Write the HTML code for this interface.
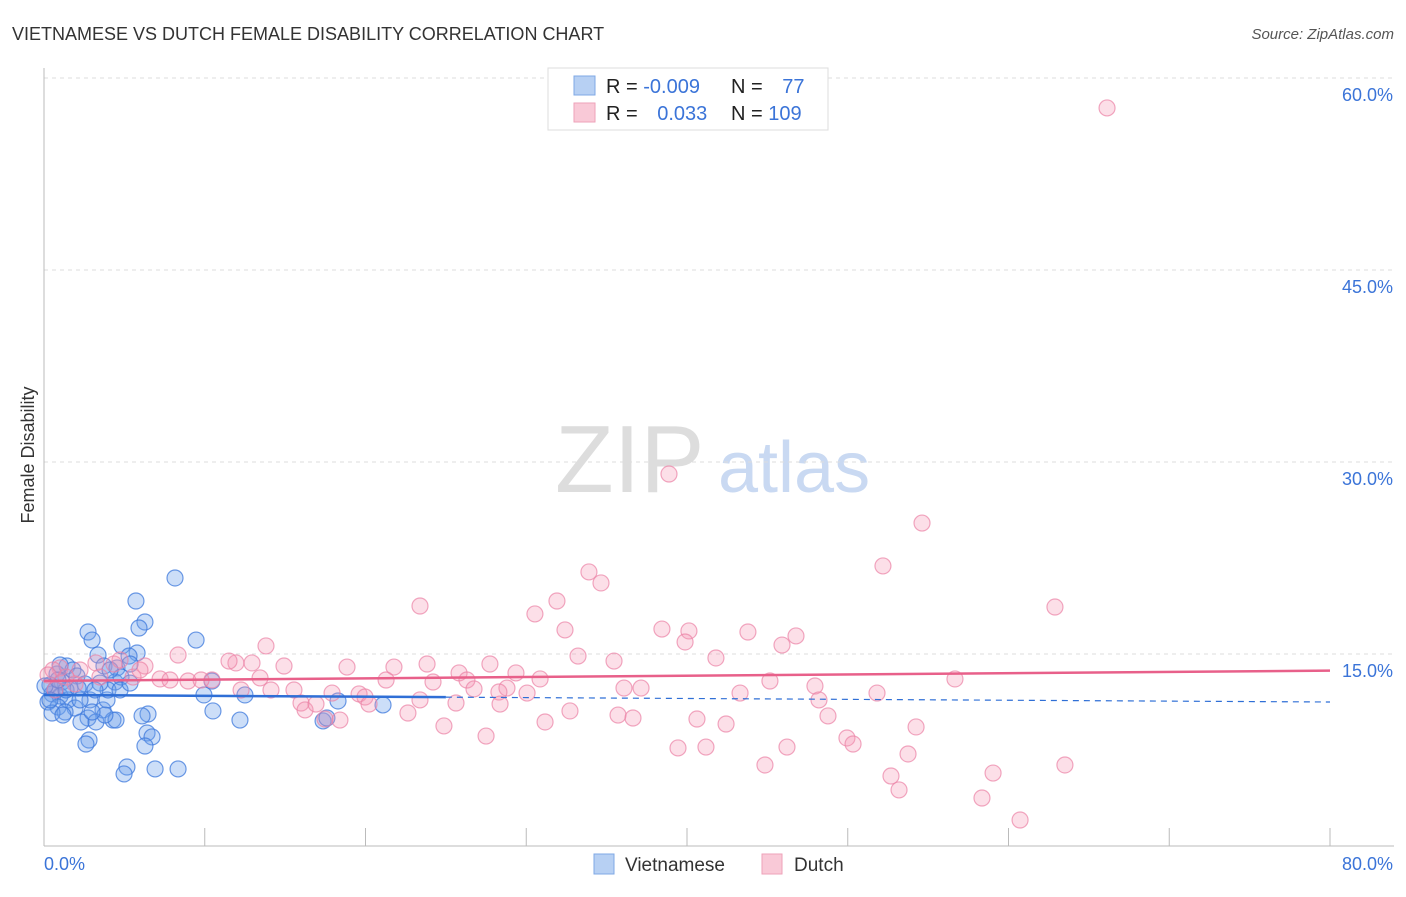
<!DOCTYPE html>
<html><head><meta charset="utf-8"><style>
body{margin:0;background:#fff;font-family:"Liberation Sans",sans-serif;}
svg text{font-family:"Liberation Sans",sans-serif;}
</style></head><body>
<svg width="1406" height="892" xmlns="http://www.w3.org/2000/svg">
<text x="12" y="40" font-size="18" fill="#333">VIETNAMESE VS DUTCH FEMALE DISABILITY CORRELATION CHART</text>
<text x="1394" y="39" font-size="15" fill="#555" font-style="italic" text-anchor="end">Source: ZipAtlas.com</text>
<text x="555" y="492" font-size="96" fill="#ddd" font-family="Liberation Serif">ZIP</text>
<text x="718" y="492" font-size="72" fill="#c9d9f2">atlas</text>
<g id="grid"></g>
<g id="axes"></g>
<g id="marks"></g>
<text transform="translate(34,455) rotate(-90)" font-size="18" fill="#333" text-anchor="middle">Female Disability</text>
<text x="44" y="870" font-size="18" fill="#3b74d8">0.0%</text>
<text x="1393" y="870" font-size="18" fill="#3b74d8" text-anchor="end">80.0%</text>
<g>
<rect x="548" y="68" width="280" height="62" fill="#fff" stroke="#ddd"/>
<rect x="574" y="76" width="21" height="19" fill="#b7d0f3" stroke="#7fa8e6"/>
<rect x="574" y="103" width="21" height="19" fill="#f9c9d7" stroke="#eea2b9"/>
<text x="606" y="93" font-size="20" fill="#222">R = <tspan fill="#3b74d8">-0.009</tspan></text>
<text x="731" y="93" font-size="20" fill="#222">N = <tspan fill="#3b74d8" dx="14">77</tspan></text>
<text x="606" y="120" font-size="20" fill="#222">R = <tspan fill="#3b74d8" dx="14">0.033</tspan></text>
<text x="731" y="120" font-size="20" fill="#222">N = <tspan fill="#3b74d8">109</tspan></text>
</g>
<g>
<rect x="594" y="854" width="20" height="20" fill="#b7d0f3" stroke="#7fa8e6"/>
<text x="625" y="871" font-size="19" fill="#333">Vietnamese</text>
<rect x="762" y="854" width="20" height="20" fill="#f9c9d7" stroke="#eea2b9"/>
<text x="794" y="871" font-size="19" fill="#333">Dutch</text>
</g>
</svg>
<script>
const yTicks=[15,30,45,60];
const yTickLabels=["15.0%","30.0%","45.0%","60.0%"];
const xTicks=[0,10,20,30,40,50,60,70,80,90,100].slice(0,11);
const bluePx=[[175,578],[136,601],[145,622],[139,628],[88,632],[92,640],[196,640],[122,646],[137,653],[98,655],[129,656],[67,666],[104,666],[117,668],[73,670],[130,664],[57,674],[77,676],[62,682],[85,684],[115,682],[121,677],[50,685],[52,694],[60,696],[68,700],[75,708],[48,702],[58,707],[65,712],[90,700],[103,710],[107,700],[108,690],[204,695],[212,681],[245,695],[213,711],[52,713],[63,715],[88,718],[96,722],[113,720],[116,720],[81,722],[148,714],[142,716],[240,720],[323,721],[327,718],[338,701],[383,705],[147,733],[152,737],[89,740],[86,744],[145,746],[127,767],[124,774],[155,769],[178,769],[55,690],[45,686],[70,688],[100,683],[110,670],[60,665],[80,700],[95,690],[120,690],[50,700],[130,683],[66,690],[78,688],[105,715],[92,712],[58,680]];
const pinkPx=[[1107,108],[669,474],[922,523],[883,566],[589,572],[601,583],[1055,607],[420,606],[557,601],[535,614],[565,630],[662,629],[689,631],[748,632],[796,636],[685,642],[782,645],[266,646],[178,655],[578,656],[614,661],[716,658],[236,663],[229,661],[252,663],[284,666],[347,667],[394,667],[427,664],[490,664],[459,673],[516,673],[540,679],[433,682],[467,680],[474,689],[386,680],[260,678],[212,680],[188,681],[160,679],[133,677],[145,666],[114,664],[96,663],[80,670],[60,668],[53,670],[48,675],[66,677],[75,684],[55,690],[201,680],[241,690],[271,690],[294,690],[332,693],[359,694],[365,697],[507,688],[499,692],[527,693],[624,688],[641,688],[740,693],[770,681],[815,686],[819,700],[877,693],[955,679],[301,703],[305,710],[316,704],[369,704],[408,713],[456,703],[500,704],[570,711],[545,722],[618,715],[633,718],[697,719],[726,724],[828,716],[916,727],[444,726],[486,736],[678,748],[706,747],[787,747],[847,738],[853,744],[908,754],[765,765],[891,776],[899,790],[993,773],[1065,765],[982,798],[1020,820],[340,720],[325,719],[420,700],[140,670],[120,660],[100,677],[170,680]];
// convert to data values (percent)
const blueX=bluePx.map(p=>+((p[0]-44)/16.075).toFixed(2));
const blueY=bluePx.map(p=>+((846-p[1])/12.8).toFixed(2));
const pinkX=pinkPx.map(p=>+((p[0]-44)/16.075).toFixed(2));
const pinkY=pinkPx.map(p=>+((846-p[1])/12.8).toFixed(2));
const blueTrend=[11.8,11.25];
const pinkTrend=[12.9,13.7];
const blueSolidEnd=25;

const NS="http://www.w3.org/2000/svg";
const sx=v=>44+v*16.075, sy=v=>846-v*12.8;
function mk(tag,attrs,parent){const e=document.createElementNS(NS,tag);for(const k in attrs)e.setAttribute(k,attrs[k]);parent.appendChild(e);return e;}
const grid=document.getElementById('grid'),axes=document.getElementById('axes'),marks=document.getElementById('marks');
yTicks.forEach((t,i)=>{
 const l=mk('line',{x1:44,x2:1394,y1:sy(t),y2:sy(t),stroke:'#ddd','stroke-dasharray':'4,4'},grid);
 
 
 const tx=mk('text',{x:1393,y:sy(t)+23,'font-size':18,fill:'#3b74d8','text-anchor':'end'},grid);
 tx.textContent=yTickLabels[i];
 
 
});
const ax=mk('line',{x1:44,x2:1394,y1:846,y2:846,stroke:'#bbb'},axes);


const ay=mk('line',{x1:44,x2:44,y1:68,y2:846,stroke:'#bbb'},axes);


for(let v=10;v<=80;v+=10){
 const t=mk('line',{x1:sx(v),x2:sx(v),y1:828,y2:846,stroke:'#bbb'},axes);
 
 
}
blueX.forEach((x,i)=>{
 const c=mk('circle',{cx:sx(x),cy:sy(blueY[i]),r:8,fill:'rgba(110,160,235,0.35)',stroke:'rgba(60,120,220,0.75)','stroke-width':1.2},marks);
 
 
});
pinkX.forEach((x,i)=>{
 const c=mk('circle',{cx:sx(x),cy:sy(pinkY[i]),r:8,fill:'rgba(245,150,180,0.3)',stroke:'rgba(235,130,165,0.7)','stroke-width':1.2},marks);
 
 
});
const bAt=v=>blueTrend[0]+(blueTrend[1]-blueTrend[0])*v/80;
const b1=mk('line',{x1:sx(0),y1:sy(bAt(0)),x2:sx(blueSolidEnd),y2:sy(bAt(blueSolidEnd)),stroke:'#2f6fd6','stroke-width':2.5},marks);


const b2=mk('line',{x1:sx(blueSolidEnd),y1:sy(bAt(blueSolidEnd)),x2:sx(80),y2:sy(bAt(80)),stroke:'#2f6fd6','stroke-width':1.2,'stroke-dasharray':'6,5'},marks);


const p1=mk('line',{x1:sx(0),y1:sy(pinkTrend[0]),x2:sx(80),y2:sy(pinkTrend[1]),stroke:'#e8608a','stroke-width':2.5},marks);


</script>
</body></html>
